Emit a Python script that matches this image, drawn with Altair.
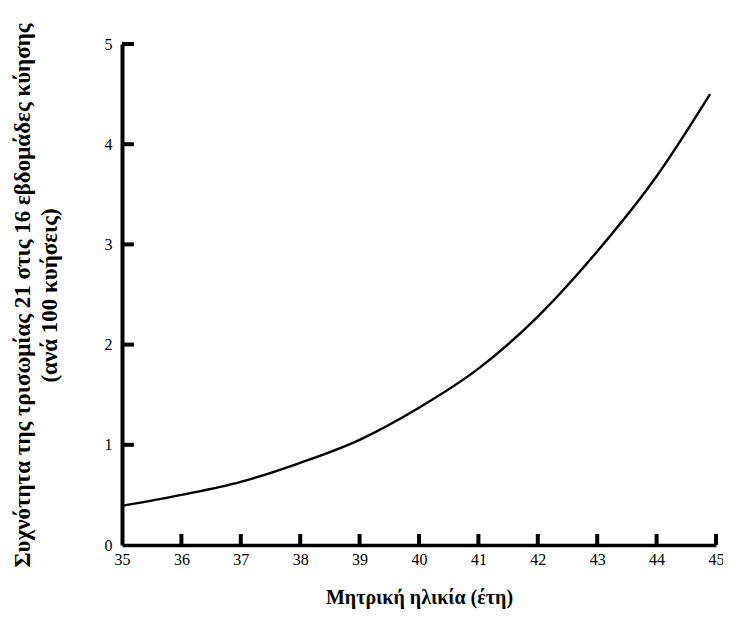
import altair as alt
import pandas as pd

# Maternal age (years) and incidence of trisomy 21 at 16 weeks (per 100 pregnancies)
ages = [35, 36, 37, 38, 39, 40, 41, 42, 43, 44, 44.9]
rates = [0.39, 0.50, 0.63, 0.82, 1.05, 1.37, 1.76, 2.28, 2.93, 3.68, 4.5]

x_ticks = [35, 36, 37, 38, 39, 40, 41, 42, 43, 44, 45]
y_ticks = [0, 1, 2, 3, 4, 5]

FONT = "Liberation Serif"

df = pd.DataFrame({"age": ages, "rate": rates})
xt = pd.DataFrame({"t": x_ticks[1:], "lo": [0.0] * 10, "hi": [0.11] * 10})
yt = pd.DataFrame({"t": y_ticks[1:], "lo": [35.0] * 5, "hi": [35.2] * 5})

xscale = alt.Scale(domain=[35, 45], nice=False, zero=False)
yscale = alt.Scale(domain=[0, 5], nice=False)

xaxis = alt.Axis(values=x_ticks, format="d", grid=False, ticks=False,
                 domainColor="black", domainWidth=3.5, labelFlush=False,
                 labelFont=FONT, labelFontSize=16, labelColor="black",
                 labelPadding=6,
                 title="Μητρική ηλικία (έτη)", titleFont=FONT,
                 titleFontSize=20, titleFontWeight="bold", titleColor="black",
                 titlePadding=20)
yaxis = alt.Axis(values=y_ticks, format="d", grid=False, ticks=False,
                 domainColor="black", domainWidth=4, labelFlush=False,
                 labelFont=FONT, labelFontSize=16, labelColor="black",
                 labelPadding=10,
                 title=["Συχνότητα της τρισωμίας 21 στις 16 εβδομάδες κύησης",
                        "(ανά 100 κυήσεις)"],
                 titleFont=FONT, titleFontSize=23, titleFontWeight="bold",
                 titleColor="black", titleAngle=-90, titleAlign="center",
                 titleBaseline="top", titleLineHeight=27,
                 titleX=-111, titleY=251)

xtick_marks = alt.Chart(xt).mark_rule(color="#000000", strokeWidth=4).encode(
    x=alt.X("t:Q", scale=xscale),
    y=alt.Y("lo:Q", scale=yscale),
    y2=alt.Y2("hi:Q"),
)
ytick_marks = alt.Chart(yt).mark_rule(color="#000000", strokeWidth=4).encode(
    x=alt.X("lo:Q", scale=xscale),
    x2=alt.X2("hi:Q"),
    y=alt.Y("t:Q", scale=yscale),
)
line = alt.Chart(df).mark_line(color="black", strokeWidth=2.4, interpolate="monotone").encode(
    x=alt.X("age:Q", scale=xscale, axis=xaxis),
    y=alt.Y("rate:Q", scale=yscale, axis=yaxis),
)

chart = alt.layer(xtick_marks, ytick_marks, line).properties(
    width=594, height=501,
    padding={"left": 114, "top": 36, "right": 7, "bottom": 66},
    autosize=alt.AutoSizeParams(type="none"),
    background="white",
).configure_view(strokeWidth=0, stroke="transparent")

chart.save("out.html", embed_options={"renderer": "svg", "actions": False})
